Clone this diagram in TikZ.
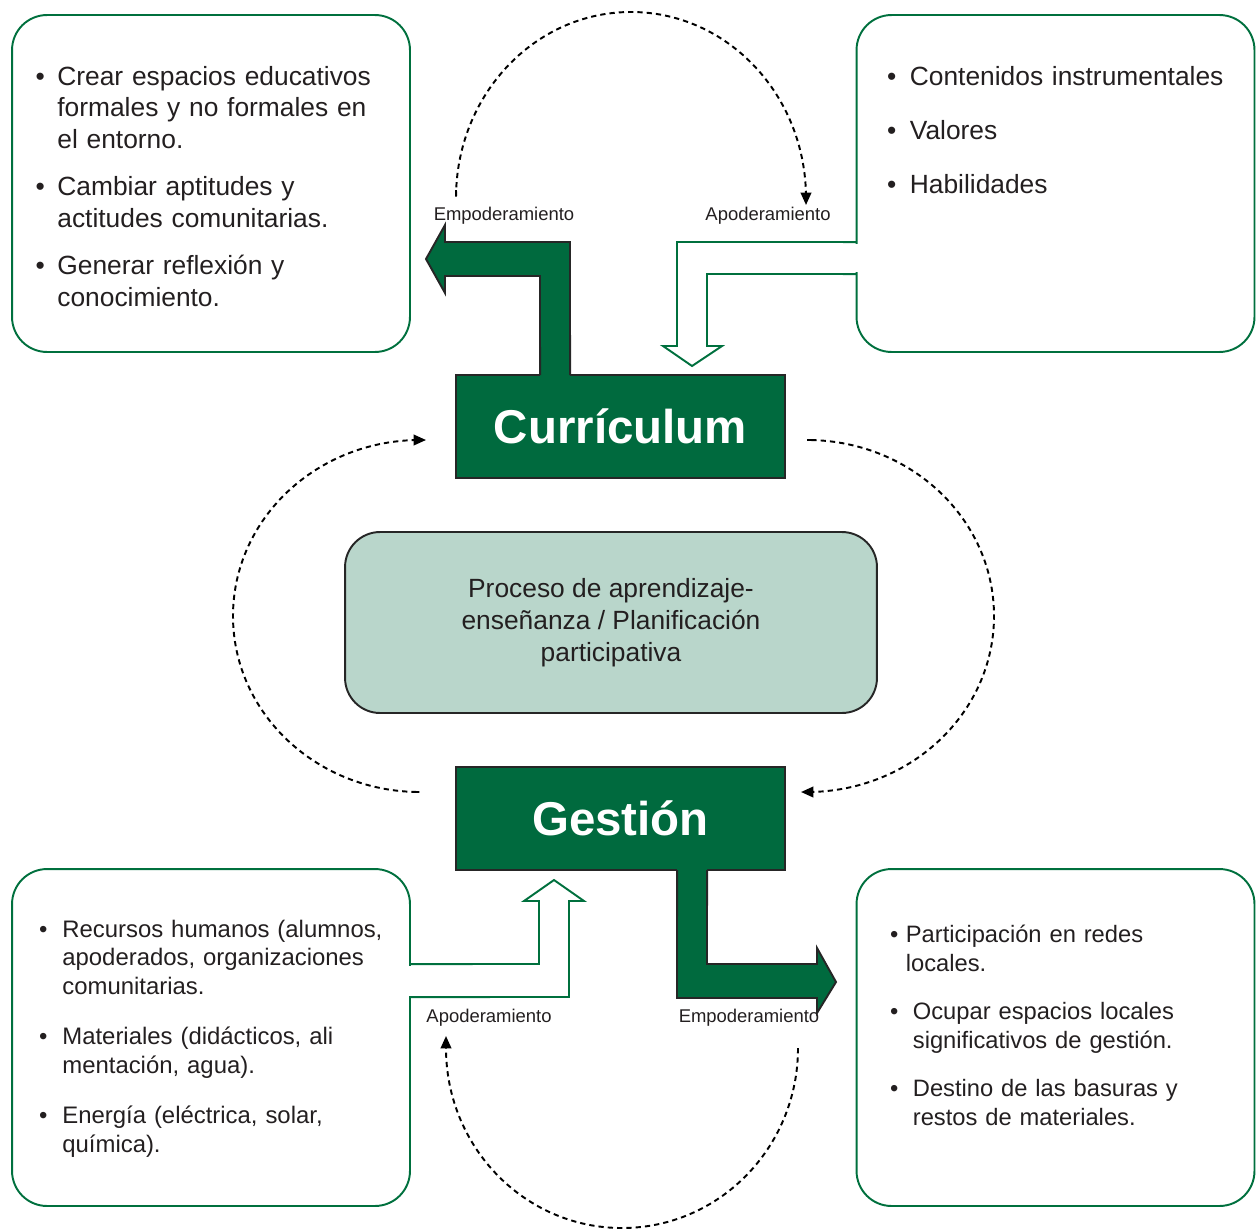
\documentclass[tikz,border=0pt]{standalone}
\usepackage{fontspec}
\setmainfont{Liberation Sans}
\usetikzlibrary{arrows.meta,calc}

\definecolor{verdeosc}{RGB}{0,106,62}
\definecolor{verdelinea}{RGB}{0,112,62}
\definecolor{verdeclaro}{RGB}{185,214,203}
\definecolor{tinta}{RGB}{35,31,32}

\newenvironment{puntos}[2]{%
  \begin{list}{\textbullet}{%
    \setlength{\leftmargin}{0.6cm}%
    \setlength{\labelsep}{#1}%
    \setlength{\labelwidth}{\dimexpr0.6cm-#1\relax}%
    \setlength{\itemsep}{#2}%
    \setlength{\parsep}{0pt}\setlength{\topsep}{0pt}%
    \setlength{\partopsep}{0pt}\setlength{\itemindent}{0pt}}}%
  {\end{list}}

\tikzset{
  caja/.style={draw=verdelinea,line width=1.1pt,rounded corners=0.7cm,
    minimum width=7.96cm,minimum height=6.74cm,inner sep=0pt,outer sep=0pt},
  titulo/.style={draw=black!85,line width=1.1pt,fill=verdeosc,text=white,
    font=\fontsize{27}{32}\selectfont\bfseries,minimum width=6.58cm,
    minimum height=2.06cm,inner sep=0pt,outer sep=0pt},
  centro/.style={draw=black!85,line width=1.1pt,fill=verdeclaro,text=tinta,
    rounded corners=0.7cm,minimum width=10.64cm,minimum height=3.62cm,
    align=center,font=\fontsize{15}{18.1}\selectfont,outer sep=0pt},
  lista/.style={anchor=north west,inner sep=0pt,text width=8cm,align=left,text=tinta},
  etiqueta/.style={font=\fontsize{10.5}{12}\selectfont,text=tinta,inner sep=0pt},
  lazo/.style={line width=1.1pt,dash pattern=on 3pt off 2.3pt,
    -{Triangle[length=7pt,width=6pt]}},
  bloque/.style={draw=black!85,line width=1.1pt},
  hueco/.style={draw=verdelinea,line width=1.1pt}
}

\begin{document}
\begin{tikzpicture}[x=0.02cm,y=-0.02cm]
\useasboundingbox (0,0) rectangle (1256,1230);

% cajas de contenido
\node[caja] (arrizq) at (211,183.5) {};
\node[caja] (arrder) at (1055.5,183.5) {};
\node[caja] (abaizq) at (211,1037.5) {};
\node[caja] (abader) at (1055.5,1037.5) {};

% bloques centrales
\node[titulo] (cur) at (620.5,426.5) {Currículum};
\node[titulo] (ges) at (620.5,818.5) {Gestión};
\node[centro] (pro) at (611,622.5) {Proceso de aprendizaje-\\enseñanza / Planificación\\participativa};

% flechas llenas
\fill[verdeosc] ($(cur.north west)+(84,2)$) -- (540,276) -- (445,276) -- (445,293) -- (426,259) -- (445,225) -- (445,242) -- (570,242) -- ($(cur.north west)+(114,2)$) -- cycle;
\draw[bloque] ($(cur.north west)+(84,0)$) -- (540,276) -- (445,276) -- (445,293) -- (426,259) -- (445,225) -- (445,242) -- (570,242) -- ($(cur.north west)+(114,0)$);
\fill[verdeosc] ($(ges.south west)+(221,-2)$) -- (677,998) -- (817,998) -- (817,1013) -- (836,982) -- (817,948) -- (817,964) -- (707,964) -- ($(ges.south west)+(251,-2)$) -- cycle;
\draw[bloque] ($(ges.south west)+(221,0)$) -- (677,998) -- (817,998) -- (817,1013) -- (836,982) -- (817,948) -- (817,964) -- (707,964) -- ($(ges.south west)+(251,0)$);

% flechas huecas
\fill[white] ($(arrder.north west)+(-2,229)$) rectangle ($(arrder.north west)+(2,257)$);
\draw[hueco] ($(arrder.north west)+(0,227)$) -- (677,242) -- (677,346) -- (663,346) -- (692,366) -- (722,346) -- (707,346) -- (707,274) -- ($(arrder.north west)+(0,259)$);
\fill[white] ($(abaizq.north east)+(-2,97)$) rectangle ($(abaizq.north east)+(2,127)$);
\draw[hueco] ($(abaizq.north east)+(0,95)$) -- (539,964) -- (539,901) -- (524,901) -- (554,880) -- (584,901) -- (569,901) -- (569,997) -- ($(abaizq.north east)+(0,128)$);

% lazos punteados
\draw[lazo] (456,190) -- (456,198) arc[start angle=180,end angle=360,x radius=175,y radius=186] -- (806,205);
\draw[lazo] (414,792) -- (420,792) arc[start angle=90,end angle=270,x radius=187,y radius=176] -- (426,440);
\draw[lazo] (812,440) -- (807,440) arc[start angle=-90,end angle=90,x radius=187,y radius=176] -- (801,792);
\draw[lazo] (798,1048) arc[start angle=0,end angle=180,x radius=176,y radius=180] -- (446,1036);

% rotulos
\node[etiqueta] (em1) at (504,216) {Empoderamiento};
\node[etiqueta] (ap1) at (768,216) {Apoderamiento};
\node[etiqueta] (ap2) at (489,1018) {Apoderamiento};
\node[etiqueta] (em2) at (749,1018) {Empoderamiento};

% textos de las cajas
\node[lista,font=\fontsize{15}{18.1}\selectfont] (txt1) at ($(arrizq.north west)+(15,38)$) {\begin{puntos}{0.25cm}{8.6pt}
\item Crear espacios educativos\\formales y no formales en\\el entorno.
\item Cambiar aptitudes y\\actitudes comunitarias.
\item Generar reflexión y\\conocimiento.
\end{puntos}};
\node[lista,font=\fontsize{15}{18.1}\selectfont] (txt2) at ($(arrder.north west)+(23,38)$) {\begin{puntos}{0.27cm}{12.6pt}
\item Contenidos instrumentales
\item Valores
\item Habilidades
\end{puntos}};
\node[lista,font=\fontsize{13.6}{16.3}\selectfont] (txt3) at ($(abaizq.north west)+(20,39)$) {\begin{puntos}{0.3cm}{12.4pt}
\item Recursos humanos (alumnos,\\apoderados, organizaciones\\comunitarias.
\item Materiales (didácticos, ali\\mentación, agua).
\item Energía (eléctrica, solar,\\química).
\end{puntos}};
\node[lista,font=\fontsize{13.5}{16.5}\selectfont] (txt4) at ($(abader.north west)+(26,44)$) {\begin{puntos}{0.29cm}{10.8pt}
\item \hspace*{-0.14cm}Participación en redes\\\hspace*{-0.14cm}locales.
\item Ocupar espacios locales\\significativos de gestión.
\item Destino de las basuras y\\restos de materiales.
\end{puntos}};
\end{tikzpicture}
\end{document}
